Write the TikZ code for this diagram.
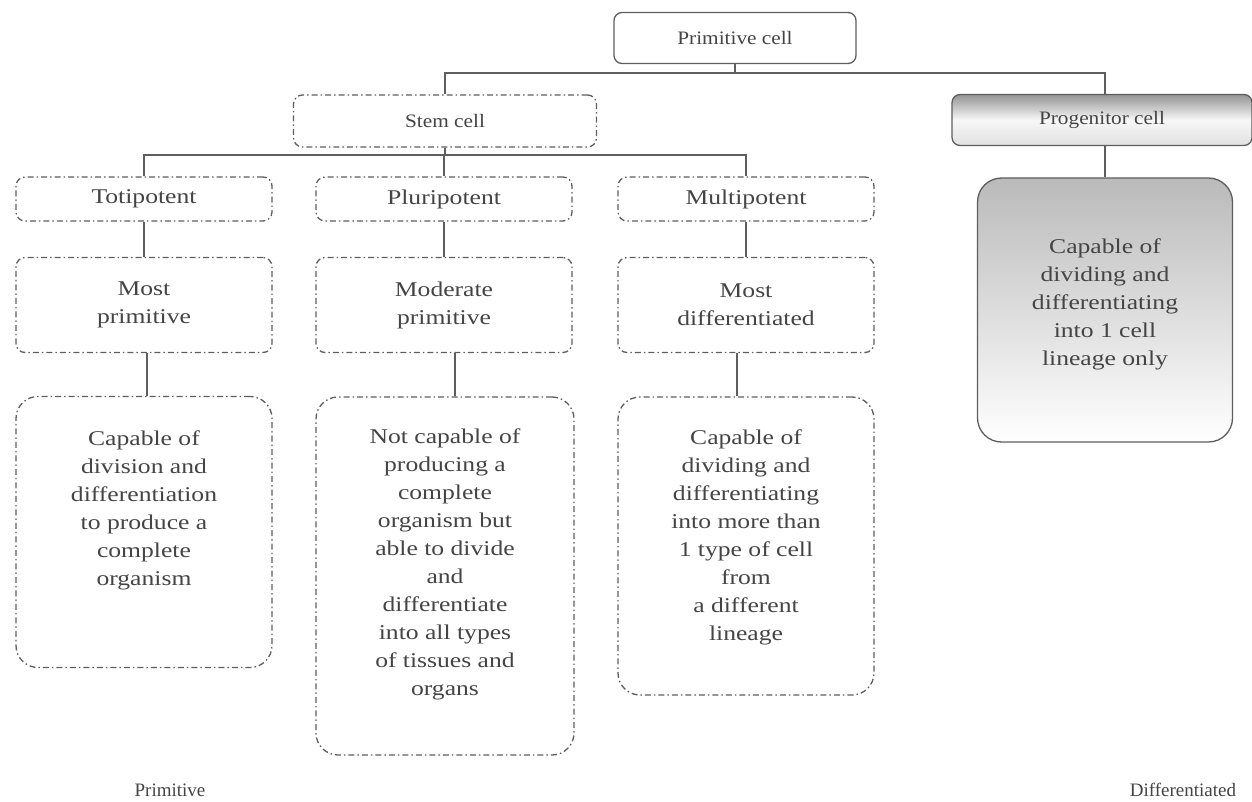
\documentclass[tikz,border=0pt]{standalone}
\usepackage{fontspec}
\setmainfont{Liberation Serif}
\newfontfamily\widefont[FakeStretch=1.22]{Liberation Serif}
\newfontfamily\midfont[FakeStretch=1.12]{Liberation Serif}
\usetikzlibrary{calc}
\definecolor{txt}{HTML}{444444}
\definecolor{ln}{HTML}{5E5E5E}
\tikzset{
  base/.style={draw=ln, line width=1.3pt, align=center, text=txt, inner sep=0pt,
    font=\widefont\fontsize{21}{28}\selectfont},
  toplbl/.style={font=\midfont\fontsize{19}{24}\selectfont},
  solidbox/.style={base, rounded corners=8pt, toplbl},
  dashbox/.style={base, rounded corners=9pt, dash pattern=on 6pt off 3pt on 1.5pt off 3pt},
  bigdash/.style={dashbox, rounded corners=22pt},
  conn/.style={draw=ln, line width=1.3pt},
  lbl/.style={text=txt, font=\fontsize{19}{24}\selectfont}
}
\begin{document}
\begin{tikzpicture}[x=1pt,y=-1pt]
\useasboundingbox (0,0) rectangle (1252,802);
% top
\node[solidbox, minimum width=242pt, minimum height=51pt] (prim) at (735,38) {Primitive cell};
\node[dashbox, toplbl, minimum width=303pt, minimum height=52pt] (stem) at (445,121) {Stem cell};
\node[solidbox, minimum width=300pt, minimum height=51pt, top color=black!42, bottom color=black!12, middle color=black!3] (prog) at (1102,120) {Progenitor cell};
\node[base, rounded corners=24pt, minimum width=255pt, minimum height=264pt, top color=black!27, bottom color=white] (bigp) at (1105,310) {Capable of\\dividing and\\differentiating\\into 1 cell\\lineage only\\[-12pt]};
% level 2
\node[dashbox, minimum width=256pt, minimum height=44pt] (toti) at (144,199) {Totipotent};
\node[dashbox, minimum width=256pt, minimum height=44pt] (pluri) at (444,199) {Pluripotent};
\node[dashbox, minimum width=256pt, minimum height=44pt] (multi) at (746,199) {Multipotent};
% level 3
\node[dashbox, minimum width=256pt, minimum height=95pt] (mp) at (144,305) {Most\\primitive};
\node[dashbox, minimum width=256pt, minimum height=95pt] (modp) at (444,305) {Moderate\\primitive};
\node[dashbox, minimum width=256pt, minimum height=95pt] (md) at (746,305) {Most\\differentiated};
% level 4
\node[bigdash, minimum width=256pt, minimum height=271pt] (d1) at (144,532) {Capable of\\division and\\differentiation\\to produce a\\complete\\organism\\[20pt]};
\node[bigdash, minimum width=258pt, minimum height=358pt] (d2) at (445,576) {Not capable of\\producing a\\complete\\organism but\\able to divide\\and\\differentiate\\into all types\\of tissues and\\organs\\[0pt]};
\node[bigdash, minimum width=256pt, minimum height=298pt] (d3) at (746,546) {Capable of\\dividing and\\differentiating\\into more than\\1 type of cell\\from\\a different\\lineage\\[-6pt]};
% bottom labels
\node[lbl] (lp) at (170,790) {Primitive};
\node[lbl] (ld) at (1183,790) {Differentiated};
% connectors
\coordinate (j1) at (735,73);
\coordinate (j3) at (1105,73);
\draw[conn] (prim.south) -- (j1);
\draw[conn] (stem.north) -- (stem.north |- j1) -- (j3) -- (j3 |- prog.north);
\draw[conn] (j3 |- prog.south) -- (bigp.north);
\coordinate (j2) at (445,155);
\draw[conn] (stem.south) -- (j2);
\draw[conn] (toti.north) -- (toti.north |- j2) -- (multi.north |- j2) -- (multi.north);
\draw[conn] (pluri.north) -- (pluri.north |- j2);
\draw[conn] (toti.south) -- (mp.north);
\draw[conn] (pluri.south) -- (modp.north);
\draw[conn] (multi.south) -- (md.north);
\draw[conn] ($(mp.south)+(3,0)$) -- ($(d1.north)+(3,0)$);
\draw[conn] ($(modp.south)+(11,0)$) -- ($(d2.north)+(10,0)$);
\draw[conn] ($(md.south)+(-9,0)$) -- ($(d3.north)+(-9,0)$);
\end{tikzpicture}
\end{document}
